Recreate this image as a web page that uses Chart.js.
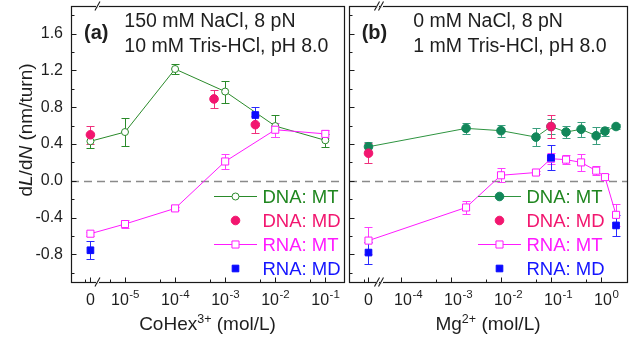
<!DOCTYPE html>
<html><head><meta charset="utf-8">
<script src="https://cdn.jsdelivr.net/npm/chart.js@4.4.0/dist/chart.umd.min.js"></script>
<style>
html,body{margin:0;padding:0;background:#fff;width:639px;height:341px;overflow:hidden}
canvas{position:absolute;top:0}
#ca{left:0}
#cb{left:300px}
</style></head>
<body>
<canvas id="ca" width="350" height="341"></canvas>
<canvas id="cb" width="339" height="341"></canvas>
<script>
// ---------------- data ----------------
const yTicks = [-0.8, -0.4, 0.0, 0.4, 0.8, 1.2, 1.6];
const yMinorTicks = [-1.0, -0.6, -0.2, 0.2, 0.6, 1.0, 1.4, 1.8];
const legendLabels = ['DNA: MT', 'DNA: MD', 'RNA: MT', 'RNA: MD'];

// Panel (a): CoHex3+ (mol/L), 150 mM NaCl
const xTicksA = [0, 1e-5, 1e-4, 1e-3, 1e-2, 1e-1];
const xMinorA = [5e-6, 5e-5, 5e-4, 5e-3, 5e-2];
const concMT_a = [0, 1e-5, 1e-4, 1e-3, 1e-2, 1e-1];
const dnaMT_a = [0.43, 0.53, 1.215, 0.97, 0.595, 0.44];
const dnaMT_a_err = [0.07, 0.15, 0.05, 0.12, 0.12, 0.07];
const concDnaMD_a = [0, 6e-4, 4e-3];
const dnaMD_a = [0.50, 0.89, 0.61];
const dnaMD_a_err = [0.10, 0.10, 0.09];
const rnaMT_a = [-0.575, -0.47, -0.30, 0.21, 0.555, 0.51];
const rnaMT_a_err = [0.02, 0.04, 0.015, 0.085, 0.075, 0.045];
const concRnaMD_a = [0, 4e-3];
const rnaMD_a = [-0.755, 0.715];
const rnaMD_a_err = [0.10, 0.085];

// Panel (b): Mg2+ (mol/L), 0 mM NaCl
const xTicksB = [0, 1e-4, 1e-3, 1e-2, 1e-1, 1];
const xMinorB = [5e-4, 5e-3, 5e-2, 5e-1];
const concMT_b = [0, 2e-3, 1e-2, 5e-2, 1e-1, 2e-1, 4e-1, 8e-1, 1.2, 2];
const dnaMT_b = [0.37, 0.57, 0.545, 0.475, 0.59, 0.53, 0.56, 0.49, 0.54, 0.59];
const dnaMT_b_err = [0.05, 0.06, 0.065, 0.10, 0.08, 0.07, 0.08, 0.09, 0.05, 0.025];
const concDnaMD_b = [0, 1e-1];
const dnaMD_b = [0.30, 0.59];
const dnaMD_b_err = [0.11, 0.12];
const rnaMT_b = [-0.65, -0.29, 0.06, 0.09, 0.24, 0.23, 0.20, 0.11, 0.04, -0.37];
const rnaMT_b_err = [0.15, 0.07, 0.075, 0.02, 0.06, 0.05, 0.09, 0.05, 0.03, 0.12];
const concRnaMD_b = [0, 1e-1, 2];
const rnaMD_b = [-0.78, 0.25, -0.485];
const rnaMD_b_err = [0.12, 0.135, 0.11];

// ---------------- helpers ----------------
const FONT = '"Liberation Sans", Arial, Helvetica, sans-serif';
const TXT = '#1e1e1e';
function toX(c, zero) { return c === 0 ? zero : Math.log10(c); }
function pts(conc, vals, zero) { return conc.map((c, i) => ({x: toX(c, zero), y: vals[i]})); }

function drawMarker(ctx, style, r, x, y, fill, stroke) {
  ctx.beginPath();
  if (style === 'rect') {
    const s = r * Math.SQRT1_2;
    ctx.rect(x - s, y - s, 2 * s, 2 * s);
  } else {
    ctx.arc(x, y, r, 0, Math.PI * 2);
  }
  ctx.fillStyle = fill; ctx.fill();
  ctx.lineWidth = 1; ctx.strokeStyle = stroke; ctx.stroke();
}

function mtStyle(color, style, r, fill) {
  return {showLine: true, borderColor: color, borderWidth: 1, tension: 0,
    pointStyle: style, pointRadius: r, pointHoverRadius: r, pointBackgroundColor: fill || '#fff',
    pointBorderColor: color, pointBorderWidth: 1};
}
function mdStyle(color, style, r) {
  return {showLine: false, borderColor: color, borderWidth: 1,
    pointStyle: style, pointRadius: r, pointHoverRadius: r, pointBackgroundColor: color,
    pointBorderColor: color, pointBorderWidth: 1};
}

function makePlugin(p) {
  return {
    id: 'panelDeco',
    beforeDatasetsDraw(chart) {
      const ctx = chart.ctx, ca = chart.chartArea, ys = chart.scales.y;
      ctx.save();
      // zero dashed line
      const y0 = Math.round(ys.getPixelForValue(0)) + 0.5;
      ctx.setLineDash([8, 5]); ctx.strokeStyle = '#8a8a8a'; ctx.lineWidth = 1.5;
      ctx.beginPath(); ctx.moveTo(ca.left, y0); ctx.lineTo(ca.right, y0); ctx.stroke();
      ctx.setLineDash([]);
      // error bars
      chart.data.datasets.forEach((ds, di) => {
        const meta = chart.getDatasetMeta(di);
        ctx.strokeStyle = ds.errColor; ctx.lineWidth = 1;
        meta.data.forEach((el, i) => {
          const v = ds.data[i].y, e = ds.errors[i];
          const x = Math.round(el.x) + 0.5;
          const yt = Math.round(ys.getPixelForValue(v + e)) + 0.5;
          const yb = Math.round(ys.getPixelForValue(v - e)) + 0.5;
          ctx.beginPath();
          ctx.moveTo(x, yt); ctx.lineTo(x, yb);
          ctx.moveTo(x - 4, yt); ctx.lineTo(x + 4, yt);
          ctx.moveTo(x - 4, yb); ctx.lineTo(x + 4, yb);
          ctx.stroke();
        });
      });
      ctx.restore();
    },
    afterDatasetsDraw(chart) {
      const ctx = chart.ctx, ca = chart.chartArea, xs = chart.scales.x, ys = chart.scales.y;
      ctx.save();
      // frame
      ctx.strokeStyle = '#1a1a1a'; ctx.lineWidth = 1.2;
      ctx.strokeRect(ca.left + 0.5, ca.top + 0.5, ca.right - ca.left, ca.bottom - ca.top);
      // y ticks (inward on left axis)
      ctx.lineWidth = 1;
      const lx = ca.left + 0.5;
      yTicks.forEach(v => { const y = Math.round(ys.getPixelForValue(v)) + 0.5;
        ctx.beginPath(); ctx.moveTo(lx, y); ctx.lineTo(lx + 5, y); ctx.stroke(); });
      yMinorTicks.forEach(v => { const y = Math.round(ys.getPixelForValue(v)) + 0.5;
        ctx.beginPath(); ctx.moveTo(lx, y); ctx.lineTo(lx + 3, y); ctx.stroke(); });
      // x ticks (inward on bottom axis)
      const by = ca.bottom + 0.5;
      p.xTicks.forEach(c => { const x = Math.round(xs.getPixelForValue(toX(c, p.zero))) + 0.5;
        ctx.beginPath(); ctx.moveTo(x, by); ctx.lineTo(x, by - 5); ctx.stroke(); });
      p.xMinor.forEach(c => { const x = Math.round(xs.getPixelForValue(toX(c, p.zero))) + 0.5;
        ctx.beginPath(); ctx.moveTo(x, by); ctx.lineTo(x, by - 3); ctx.stroke(); });
      { const x = Math.round(xs.getPixelForValue(p.zero - 0.1)) + 0.5;
        ctx.beginPath(); ctx.moveTo(x, by); ctx.lineTo(x, by - 3); ctx.stroke(); }
      // axis break marks
      const bx = xs.getPixelForValue(p.breakAt);
      ctx.lineWidth = 1.1; ctx.strokeStyle = '#1a1a1a';
      for (let k = 0; k < p.breakCount; k++) {
        const x = bx + (k - (p.breakCount - 1) / 2) * 4;
        [ca.bottom, ca.top].forEach(yy => {
          ctx.clearRect(x - 1.5, yy - 0.8, 3, 1.6);
          ctx.beginPath(); ctx.moveTo(x - 2.5, yy + 4.5); ctx.lineTo(x + 2.5, yy - 4.5); ctx.stroke();
        });
      }
      // x tick labels
      ctx.fillStyle = TXT; ctx.textBaseline = 'alphabetic';
      p.xTicks.forEach(c => {
        const px = xs.getPixelForValue(toX(c, p.zero));
        if (c === 0) {
          ctx.font = '16px ' + FONT; ctx.textAlign = 'center'; ctx.fillText('0', px, 305); return;
        }
        const exp = String(Math.round(Math.log10(c)));
        ctx.font = '16px ' + FONT; const wb = ctx.measureText('10').width;
        ctx.font = '11.5px ' + FONT; const wsup = ctx.measureText(exp).width;
        const x0 = p.centerWhole ? px - (wb + wsup) / 2 : px - wb / 2 + 2;
        ctx.textAlign = 'left';
        ctx.font = '16px ' + FONT; ctx.fillText('10', x0, 305);
        ctx.font = '11.5px ' + FONT; ctx.fillText(exp, x0 + wb + 0.5, 298);
      });
      // x title with superscript
      {
        ctx.font = '19px ' + FONT; const w1 = ctx.measureText(p.xTitle[0]).width;
        const w3 = ctx.measureText(p.xTitle[2]).width;
        ctx.font = '12.5px ' + FONT; const w2 = ctx.measureText(p.xTitle[1]).width;
        let x = (ca.left + ca.right) / 2 - (w1 + w2 + w3) / 2;
        ctx.textAlign = 'left';
        ctx.font = '19px ' + FONT; ctx.fillText(p.xTitle[0], x, 330);
        ctx.font = '12.5px ' + FONT; ctx.fillText(p.xTitle[1], x + w1, 323);
        ctx.font = '19px ' + FONT; ctx.fillText(p.xTitle[2], x + w1 + w2, 330);
      }
      // panel annotations
      ctx.textAlign = 'left';
      ctx.font = 'bold 20px ' + FONT; ctx.fillText(p.tag, ca.left + p.tagDx, 38.5);
      ctx.font = '19.5px ' + FONT;
      ctx.fillText(p.note[0], ca.left + p.noteDx, 27.3);
      ctx.fillText(p.note[1], ca.left + p.noteDx, 51.7);
      // legend
      chart.data.datasets.forEach((ds, i) => {
        const ry = 196 + i * 24.1;
        const x1 = ca.left + p.legDx, x2 = x1 + 43;
        if (ds.showLine) {
          ctx.strokeStyle = ds.borderColor; ctx.lineWidth = 1;
          ctx.beginPath(); ctx.moveTo(x1, Math.round(ry) + 0.5); ctx.lineTo(x2, Math.round(ry) + 0.5); ctx.stroke();
        }
        drawMarker(ctx, ds.pointStyle, ds.pointRadius, (x1 + x2) / 2, Math.round(ry) + 0.5,
          ds.pointBackgroundColor, ds.pointBorderColor);
        ctx.fillStyle = ds.legendColor; ctx.font = '18.5px ' + FONT; ctx.textAlign = 'left';
        ctx.fillText(ds.label, x2 + 5.5, ry + 6.7);
      });
      // y title (left panel only)
      if (p.yTitle) {
        const segs = [['d', false], ['L', true], ['/d', false], ['N', true], [' (nm/turn)', false]];
        ctx.fillStyle = TXT;
        let tot = 0;
        segs.forEach(s => { ctx.font = (s[1] ? 'italic ' : '') + '19px ' + FONT; s.push(ctx.measureText(s[0]).width); tot += s[2]; });
        ctx.translate(31.5, 130); ctx.rotate(-Math.PI / 2);
        let x = -tot / 2;
        segs.forEach(s => { ctx.font = (s[1] ? 'italic ' : '') + '19px ' + FONT; ctx.fillText(s[0], x, 0); x += s[2]; });
      }
      ctx.restore();
    }
  };
}

function makeChart(id, p, datasets) {
  return new Chart(document.getElementById(id), {
    type: 'scatter',
    data: {datasets},
    options: {
      responsive: false, animation: false, events: [], devicePixelRatio: 1,
      layout: {padding: p.padding},
      plugins: {legend: {display: false}, tooltip: {enabled: false}},
      scales: {
        x: {type: 'linear', min: p.xMin, max: p.xMax,
          grid: {display: false, drawTicks: false}, border: {display: false},
          ticks: {display: false},
          afterFit: s => { s.height = 59; s.paddingLeft = 0; s.paddingRight = 0; }},
        y: {type: 'linear', min: -1.1, max: 1.9,
          grid: {display: false, drawTicks: false}, border: {display: false},
          ticks: {display: p.yLabels, padding: 8, color: TXT, font: {family: FONT, size: 16},
            callback: v => v.toFixed(1)},
          afterBuildTicks: s => { s.ticks = yTicks.map(v => ({value: v})); },
          afterFit: s => { s.width = p.yWidth; s.paddingTop = 0; s.paddingBottom = 0; }}
      }
    },
    plugins: [makePlugin(p)]
  });
}

// ---------------- panel (a) ----------------
const pA = {zero: -5.69, breakAt: -5.55, breakCount: 1, xMin: -6.078, xMax: -0.627,
  xTicks: xTicksA, xMinor: xMinorA, centerWhole: true, yLabels: true, yWidth: 71, yTitle: true,
  padding: {top: 3, right: 1, left: 0, bottom: 0},
  xTitle: ['CoHex', '3+', ' (mol/L)'], tag: '(a)', tagDx: 13, noteDx: 53.3, legDx: 143,
  note: ['150 mM NaCl, 8 pN', '10 mM Tris-HCl, pH 8.0']};
const GREEN_A = '#2a8a2a', PINK = '#f2166f', MAG = '#ff1aff', BLUE = '#0a0aff';
makeChart('ca', pA, [
  Object.assign({label: legendLabels[0], data: pts(concMT_a, dnaMT_a, pA.zero), errors: dnaMT_a_err,
    errColor: GREEN_A, legendColor: '#1f861f', order: 4}, mtStyle(GREEN_A, 'circle', 3.5)),
  Object.assign({label: legendLabels[1], data: pts(concDnaMD_a, dnaMD_a, pA.zero), errors: dnaMD_a_err,
    errColor: '#f0307c', legendColor: '#f2166f', order: 2}, mdStyle(PINK, 'circle', 4.3)),
  Object.assign({label: legendLabels[2], data: pts(concMT_a, rnaMT_a, pA.zero), errors: rnaMT_a_err,
    errColor: '#ff3dff', legendColor: '#ff1aff', order: 3}, mtStyle(MAG, 'rect', 5)),
  Object.assign({label: legendLabels[3], data: pts(concRnaMD_a, rnaMD_a, pA.zero), errors: rnaMD_a_err,
    errColor: '#2a2aff', legendColor: '#1414ff', order: 1}, mdStyle(BLUE, 'rect', 4.7))
]);

// ---------------- panel (b) ----------------
const pB = {zero: -4.65, breakAt: -4.44, breakCount: 2, xMin: -5.04, xMax: 0.52,
  xTicks: xTicksB, xMinor: xMinorB, centerWhole: false, yLabels: false, yWidth: 49, yTitle: false,
  padding: {top: 3, right: 12, left: 0, bottom: 0},
  xTitle: ['Mg', '2+', ' (mol/L)'], tag: '(b)', tagDx: 12.7, noteDx: 64.3, legDx: 129,
  note: ['0 mM NaCl, 8 pN', '1 mM Tris-HCl, pH 8.0']};
const TEAL = '#12875a';
makeChart('cb', pB, [
  Object.assign({label: legendLabels[0], data: pts(concMT_b, dnaMT_b, pB.zero), errors: dnaMT_b_err,
    errColor: '#3a9e7e', legendColor: '#1f861f', order: 4},
    mtStyle('#2e9440', 'circle', 4.3, TEAL), {pointBorderColor: TEAL}),
  Object.assign({label: legendLabels[1], data: pts(concDnaMD_b, dnaMD_b, pB.zero), errors: dnaMD_b_err,
    errColor: '#f0307c', legendColor: '#f2166f', order: 2}, mdStyle(PINK, 'circle', 4.3)),
  Object.assign({label: legendLabels[2], data: pts(concMT_b, rnaMT_b, pB.zero), errors: rnaMT_b_err,
    errColor: '#ff3dff', legendColor: '#ff1aff', order: 3}, mtStyle(MAG, 'rect', 5)),
  Object.assign({label: legendLabels[3], data: pts(concRnaMD_b, rnaMD_b, pB.zero), errors: rnaMD_b_err,
    errColor: '#2a2aff', legendColor: '#1414ff', order: 1}, mdStyle(BLUE, 'rect', 4.7))
]);
</script>
</body></html>
